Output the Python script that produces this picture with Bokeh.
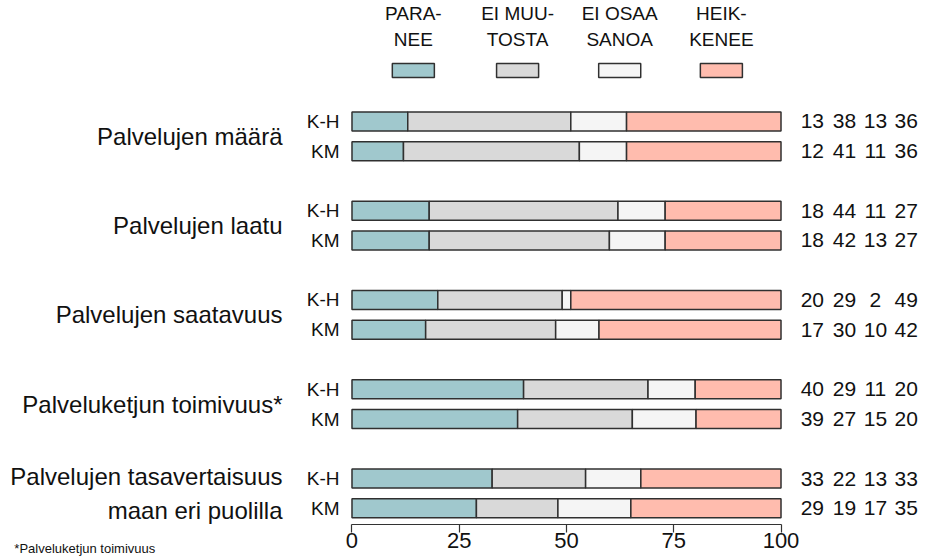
from bokeh.plotting import figure
from bokeh.models import Range1d, LinearAxis, FixedTicker
from bokeh.core.properties import value
from bokeh.embed import file_html
from bokeh.resources import INLINE

# ---- data ----
groups = ["Palvelujen määrä", "Palvelujen laatu", "Palvelujen saatavuus",
          "Palveluketjun toimivuus*", "Palvelujen tasavertaisuus\nmaan eri puolilla"]
respondents = ["K-H", "KM"]
paranee = [13, 12, 18, 18, 20, 17, 40, 39, 33, 29]
ei_muutosta = [38, 41, 44, 42, 29, 30, 29, 27, 22, 19]
ei_osaa_sanoa = [13, 11, 11, 13, 2, 10, 11, 15, 13, 17]
heikkenee = [36, 36, 27, 27, 49, 42, 20, 20, 33, 35]
series_names = ["PARA-\nNEE", "EI MUU-\nTOSTA", "EI OSAA\nSANOA", "HEIK-\nKENEE"]
ticks = [0, 25, 50, 75, 100]
footnote = "*Palveluketjun toimivuus"

# ---- style ----
FONT = "Liberation Sans"
colors = ["#A0C8CD", "#D9D9D9", "#F5F5F5", "#FFBCAE"]
edge = "#303030"
txt = "#111111"

series = [paranee, ei_muutosta, ei_osaa_sanoa, heikkenee]
n = len(paranee)
rows_y = [(i // 2) * 3 + (i % 2) for i in range(n)]
totals = [sum(s[i] for s in series) for i in range(n)]

p = figure(width=925, height=558,
           x_range=Range1d(-81.93, 133.68), y_range=Range1d(14.689, -4.067),
           output_backend="svg", toolbar_location=None,
           x_axis_location=None, y_axis_location=None,
           min_border=0, outline_line_color=None)
p.grid.grid_line_color = None
p.background_fill_color = "white"

# stacked bars (normalised to 100)
cum = [0.0] * n
for k, s in enumerate(series):
    left = cum[:]
    right = [cum[i] + s[i] * 100.0 / totals[i] for i in range(n)]
    cum = right
    p.hbar(y=rows_y, left=left, right=right, height=0.64,
           fill_color=colors[k], line_color=edge, line_width=1.5)

# respondent labels
p.text(x=[-2.9] * n, y=rows_y, text=[respondents[i % 2] for i in range(n)],
       text_align="right", text_baseline="middle",
       text_font=value(FONT), text_font_size="19px", text_color=txt)

# category labels
p.text(x=[-16.2] * len(groups), y=[g * 3 + 0.5 for g in range(len(groups))],
       text=groups, text_align="right", text_baseline="middle",
       text_font=value(FONT), text_font_size="24px", text_color=txt,
       text_line_height=1.24)

# value columns on the right
col_x = [107.3, 114.8, 122.0, 129.2]
for k, s in enumerate(series):
    p.text(x=[col_x[k]] * n, y=rows_y, text=[str(v) for v in s],
           text_align="center", text_baseline="middle",
           text_font=value(FONT), text_font_size="21px", text_color=txt)

# legend
leg_x = [14.3, 38.6, 62.4, 86.1]
p.rect(x=leg_x, y=[-1.714] * 4, width=9.8, height=0.47,
       fill_color=colors, line_color=edge, line_width=1.5)
p.text(x=leg_x, y=[-3.19] * 4, text=series_names,
       text_align="center", text_baseline="middle",
       text_font=value(FONT), text_font_size="19px", text_color=txt,
       text_line_height=1.26)

# footnote
p.text(x=[-78.7], y=[14.62], text=[footnote], text_align="left",
       text_baseline="bottom", text_font=value(FONT), text_font_size="13px",
       text_color=txt)

# x axis
ax = LinearAxis(fixed_location=13.546, bounds=(0, 100),
                ticker=FixedTicker(ticks=ticks),
                major_tick_in=0, major_tick_out=8,
                minor_tick_line_color=None, major_label_standoff=1,
                major_label_text_font=FONT, major_label_text_font_size="22px",
                major_label_text_color=txt,
                axis_line_color="#333333", major_tick_line_color="#333333",
                axis_line_width=1.2, major_tick_line_width=1.2)
p.add_layout(ax, "below")

open("out.html", "w").write(file_html(p, INLINE))
